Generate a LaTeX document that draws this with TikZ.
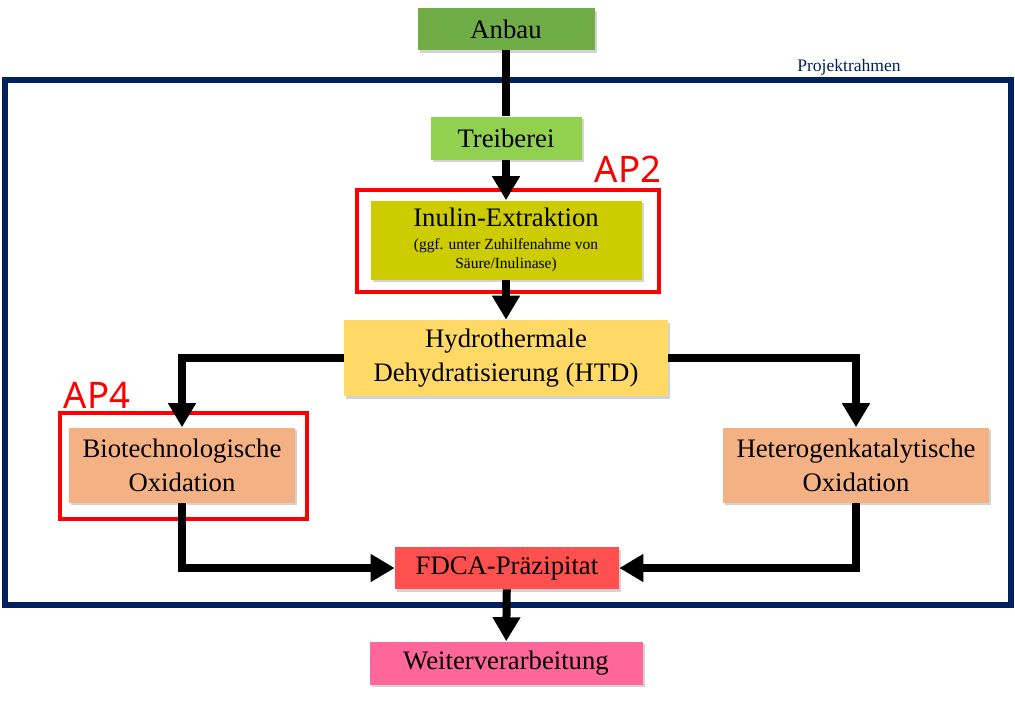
\documentclass[tikz,border=0pt]{standalone}
\usepackage{fontspec}
\setmainfont{Liberation Serif}
\newfontfamily\apfont{Noto Sans}
\usepackage{tikz}
\usetikzlibrary{
  arrows.meta,
  positioning,
  shadows
}
\definecolor{projnavy}{RGB}{0,32,96}
\definecolor{projgreen}{RGB}{112,173,71}
\definecolor{projlime}{RGB}{146,208,80}
\definecolor{projolive}{RGB}{204,204,0}
\definecolor{projyellow}{RGB}{255,217,102}
\definecolor{projorange}{RGB}{244,177,131}
\definecolor{projred}{RGB}{255,80,80}
\definecolor{projpink}{RGB}{255,102,153}
\definecolor{apred}{RGB}{255,0,0}
\newcommand{\smalltext}{\fontsize{11}{13.5}\selectfont}
\tikzset{
  box/.style={
    rectangle, inner sep=0pt, align=center,
    font=\fontsize{19}{24}\selectfont,
    drop shadow={shadow xshift=0.05cm, shadow yshift=-0.07cm, opacity=0.35}
  },
  apbox/.style={
    rectangle, draw=apred, line width=0.1cm, inner sep=0pt
  },
  aplabel/.style={
    text=apred, font=\apfont\fontsize{26}{30}\selectfont, inner sep=0pt
  },
  flow/.style={line width=0.2cm, draw=black},
  arrow/.style={flow, -{Triangle[length=0.6cm, width=0.66cm]}},
  frame/.style={draw=projnavy, line width=0.15cm}
}

\begin{document}
\begin{tikzpicture}[x=0.025cm, y=-0.025cm]
  \useasboundingbox (0,0) rectangle (1015,705);
  % Frame
  \draw[frame] (5,80) rectangle (1011,605);
  \node[text=projnavy, font=\fontsize{12.5}{14}\selectfont] (rahmen)
    at (849,67) {Projektrahmen};
  % Work packages
  \node[apbox, minimum width=0.025*302cm, minimum height=0.025*102cm]
    (ap2box) at (508,241) {};
  \node[apbox, minimum width=0.025*247cm, minimum height=0.025*106cm]
    (ap4box) at (183.5,466) {};
  \node[aplabel] (ap2) at (628,169) {AP2};
  \node[aplabel] (ap4) at (97,395) {AP4};
  % Process steps
  \node[box, fill=projgreen, minimum width=0.025*177cm, minimum height=0.025*42cm]
    (anbau) at (506,29) {Anbau};
  \node[box, fill=projlime, minimum width=0.025*151cm, minimum height=0.025*43cm]
    (treib) at (506,138) {Treiberei};
  \node[box, fill=projolive, minimum width=0.025*271cm, minimum height=0.025*79cm]
    (inulin) at (506,240) {Inulin-Extraktion\\[-8pt]
    {\smalltext (ggf. unter Zuhilfenahme von}\\[-10.5pt]
    {\smalltext Säure/Inulinase)}};
  \node[box, fill=projyellow, minimum width=0.025*324cm, minimum height=0.025*76cm]
    (htd) at (506,358) {Hydrothermale\\Dehydratisierung (HTD)};
  \node[box, fill=projorange, minimum width=0.025*225cm, minimum height=0.025*75cm]
    (bio) at (182,465) {Biotechnologische\\Oxidation};
  \node[box, fill=projorange, minimum width=0.025*266cm, minimum height=0.025*75cm]
    (hetero) at (856,465) {Heterogenkatalytische\\Oxidation};
  \node[box, fill=projred, minimum width=0.025*224cm, minimum height=0.025*42cm]
    (fdca) at (507,568) {FDCA-Präzipitat};
  \node[box, fill=projpink, minimum width=0.025*273cm, minimum height=0.025*43cm]
    (weiter) at (506,663) {Weiterverarbeitung};
  % Connectors
  \draw[flow] (anbau) -- (treib);
  \draw[arrow] (treib) -- (inulin);
  \draw[arrow] (inulin) -- (htd);
  \draw[arrow] (htd.west) -| (bio.north);
  \draw[arrow] (htd.east) -| (hetero.north);
  \draw[arrow] (bio.south) |- (fdca.west);
  \draw[arrow] (hetero.south) |- (fdca.east);
  \draw[arrow] (fdca) -- (weiter);
\end{tikzpicture}
\end{document}
